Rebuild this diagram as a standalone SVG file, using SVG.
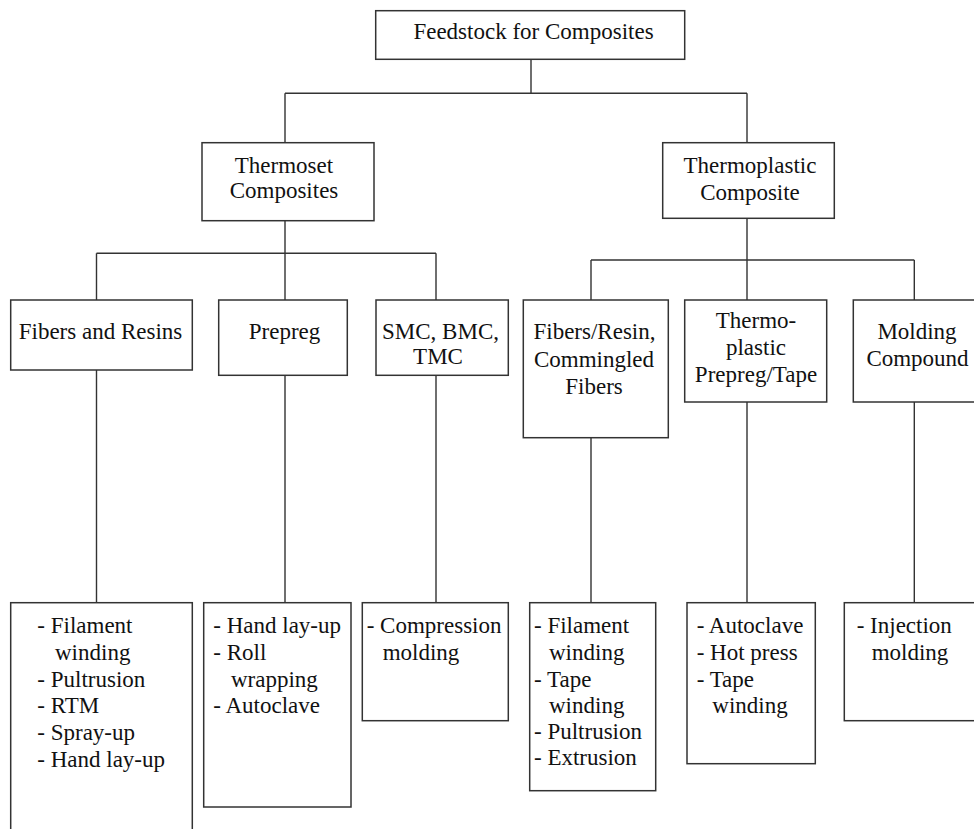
<svg xmlns="http://www.w3.org/2000/svg" width="974" height="829" viewBox="0 0 974 829">
<style>
.box{fill:#fff;stroke:#333;stroke-width:1.5}
.ln{fill:none;stroke:#333;stroke-width:1.4}
text{font-family:"Liberation Serif","Times New Roman",serif;font-size:23px;fill:#111}
.c{text-anchor:middle}
</style>
<rect width="974" height="829" fill="#fff"/>
<g id="connectors">
<path class="ln" d="M531,59.3V93.3M285,93.3H747M285,93.3V142.7M747,93.3V142.7"/>
<path class="ln" d="M285,220.7V253.3M96.5,253.3H436M96.5,253.3V300M285,253.3V300M436,253.3V300"/>
<path class="ln" d="M747,218.3V260M591,260H914.3M591,260V300M747,260V300M914.3,260V300"/>
<path class="ln" d="M96.5,370V602.7M285,375.3V602.7M436,375.3V602.7M591,437.7V602.7M747,402V602.7M914.3,402V602.7"/>
</g>
<g id="n-root"><rect class="box" x="375.7" y="10.7" width="309" height="48.6"/><text class="c" x="533.5" y="39.3">Feedstock for Composites</text></g>
<g id="n-thermoset"><rect class="box" x="202" y="142.7" width="172" height="78"/><text class="c" x="284" y="172.7">Thermoset</text><text class="c" x="284" y="197.7">Composites</text></g>
<g id="n-thermoplastic"><rect class="box" x="662.7" y="142.7" width="171.6" height="75.6"/><text class="c" x="750" y="172.7">Thermoplastic</text><text class="c" x="750" y="200">Composite</text></g>
<g id="n-fibers-resins"><rect class="box" x="10.7" y="300" width="181.6" height="70"/><text class="c" x="100.5" y="338.5">Fibers and Resins</text></g>
<g id="n-prepreg"><rect class="box" x="218.7" y="300" width="128.6" height="75.3"/><text class="c" x="284.5" y="339">Prepreg</text></g>
<g id="n-smc"><rect class="box" x="376" y="300" width="132.3" height="75.3"/><text class="c" x="440.5" y="339">SMC, BMC,</text><text class="c" x="438" y="364">TMC</text></g>
<g id="n-fibers-resin-comm"><rect class="box" x="523.3" y="300" width="145" height="137.7"/><text class="c" x="594.5" y="339.3">Fibers/Resin,</text><text class="c" x="594" y="366.7">Commingled</text><text class="c" x="594" y="394">Fibers</text></g>
<g id="n-tp-prepreg"><rect class="box" x="684.7" y="300" width="142" height="102"/><text class="c" x="756" y="328">Thermo-</text><text class="c" x="756" y="355">plastic</text><text class="c" x="756" y="381.7">Prepreg/Tape</text></g>
<g id="n-molding"><rect class="box" x="853.3" y="300" width="130" height="102"/><text class="c" x="917" y="339">Molding</text><text class="c" x="917.5" y="366">Compound</text></g>
<g id="n-p1"><rect class="box" x="10.7" y="602.7" width="181.6" height="240"/>
<text x="37.3" y="633.3">- Filament</text><text x="55" y="660">winding</text><text x="37.3" y="686.7">- Pultrusion</text><text x="37.3" y="713.3">- RTM</text><text x="37.3" y="740">- Spray-up</text><text x="37.3" y="766.7">- Hand lay-up</text></g>
<g id="n-p2"><rect class="box" x="203.7" y="602.7" width="147.3" height="204.3"/>
<text x="213.3" y="633.3">- Hand lay-up</text><text x="213.3" y="660">- Roll</text><text x="231" y="686.7">wrapping</text><text x="213.3" y="713.3">- Autoclave</text></g>
<g id="n-p3"><rect class="box" x="362.3" y="602.7" width="146" height="118"/>
<text x="366.7" y="633.3">- Compression</text><text x="382.7" y="660">molding</text></g>
<g id="n-p4"><rect class="box" x="529.7" y="602.7" width="126" height="188"/>
<text x="534" y="633.3">- Filament</text><text x="549" y="660">winding</text><text x="534" y="686.7">- Tape</text><text x="549" y="713.3">winding</text><text x="534" y="739.3">- Pultrusion</text><text x="534" y="765">- Extrusion</text></g>
<g id="n-p5"><rect class="box" x="687" y="602.7" width="128.3" height="161"/>
<text x="696.7" y="633.3">- Autoclave</text><text x="696.7" y="660">- Hot press</text><text x="696.7" y="686.7">- Tape</text><text x="712.3" y="713.3">winding</text></g>
<g id="n-p6"><rect class="box" x="844.3" y="602.7" width="140" height="118"/>
<text x="856.7" y="633.3">- Injection</text><text x="871.7" y="660">molding</text></g>
</svg>
